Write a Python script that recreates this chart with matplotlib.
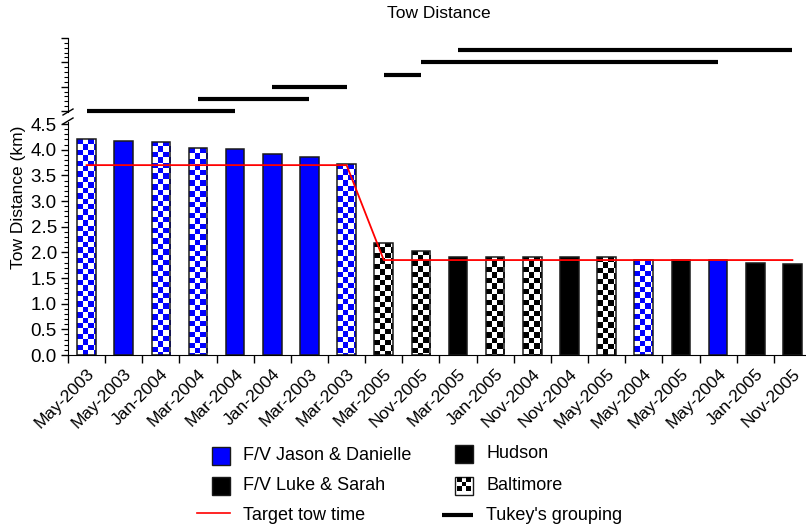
import numpy as np
import matplotlib
matplotlib.use('Agg')
import matplotlib.pyplot as plt
from matplotlib.colors import ListedColormap
from matplotlib.patches import Rectangle
from matplotlib.lines import Line2D
from matplotlib.ticker import MultipleLocator, NullFormatter

plt.rcParams['font.family'] = ['Liberation Sans', 'DejaVu Sans']

# data
months = ['May-2003', 'May-2003', 'Jan-2004', 'Mar-2004', 'Mar-2004', 'Jan-2004', 'Mar-2003',
          'Mar-2003', 'Mar-2005', 'Nov-2005', 'Mar-2005', 'Jan-2005', 'Nov-2004', 'Nov-2004',
          'May-2005', 'May-2004', 'May-2005', 'May-2004', 'Jan-2005', 'Nov-2005']
distance = [4.20, 4.17, 4.16, 4.03, 4.02, 3.92, 3.86, 3.72, 2.19, 2.03,
            1.91, 1.91, 1.91, 1.91, 1.90, 1.85, 1.85, 1.85, 1.79, 1.77]
vessel = ['JD', 'JD', 'JD', 'JD', 'JD', 'JD', 'JD', 'JD', 'LS', 'LS',
          'LS', 'LS', 'LS', 'LS', 'LS', 'JD', 'LS', 'JD', 'LS', 'LS']
port = ['B', 'H', 'B', 'B', 'H', 'H', 'H', 'B', 'B', 'B',
        'H', 'B', 'B', 'H', 'B', 'B', 'H', 'H', 'H', 'H']
target = [3.7] * 8 + [1.85] * 12
# Tukey's grouping: first bar, last bar, level in upper panel
tukey_start = [0, 3, 5, 8, 9, 10]
tukey_end = [4, 6, 7, 9, 17, 19]
tukey_level = [0, 0.5, 1.0, 1.5, 2.0, 2.5]

vessel_color = {'JD': '#0000ff', 'LS': '#000000'}
edge = '#1a1a1a'

W, H = 806, 529
fig = plt.figure(figsize=(W / 100, H / 100), dpi=100)


def fx(x):
    return x / W


def fy(y):
    return 1 - y / H


ax = fig.add_axes([fx(68), fy(355), 737 / W, 233.5 / H])
axu = fig.add_axes([fx(68), fy(112), 737 / W, 74 / H])

x = np.arange(len(distance))
colors = [vessel_color[v] if p == 'H' else 'white' for v, p in zip(vessel, port)]
bars = ax.bar(x, distance, width=0.5, color=colors, linewidth=0, zorder=2)
ax.set_xlim(-0.5, 19.34)
ax.set_ylim(0, 4.55)

# checkerboard fill for Baltimore bars
p0 = ax.transData.transform((0, 0))
p1 = ax.transData.transform((1, 1))
ppx, ppy = p1[0] - p0[0], p1[1] - p0[1]
cell = 5.4
cw, ch = cell / ppx, cell / ppy
for i, b in enumerate(bars):
    if port[i] != 'B':
        continue
    h = distance[i]
    nx = int(np.ceil(0.5 / cw))
    ny = int(np.ceil(h / ch))
    arr = (np.add.outer(np.arange(ny), np.arange(nx)) % 2 == 0).astype(int)
    x0 = i - 0.25
    im = ax.imshow(arr, cmap=ListedColormap(['white', vessel_color[vessel[i]]]),
                   vmin=0, vmax=1, interpolation='nearest', aspect='auto',
                   extent=(x0, x0 + nx * cw, h - ny * ch, h), origin='upper', zorder=2.5)
    im.set_clip_path(b)

ax.bar(x, distance, width=0.5, fill=False, edgecolor=edge, linewidth=1.1, zorder=3)
ax.plot(x, target, color='red', lw=1.3, zorder=4)

ax.set_xlim(-0.5, 19.34)
ax.set_ylim(0, 4.55)
ax.set_xticks(x)
ax.set_xticklabels(months, rotation=45, ha='right', va='top', rotation_mode='anchor', fontsize=12.5)
ax.set_xticks(np.arange(-0.5, 19, 1), minor=True)
ax.tick_params(axis='x', which='major', length=0, pad=8)
ax.tick_params(axis='x', which='minor', length=6, width=1, direction='out')
ax.set_yticks(np.arange(0, 4.51, 0.5))
ax.yaxis.set_minor_locator(MultipleLocator(0.1))
ax.tick_params(axis='y', which='major', length=5, width=1, labelsize=13.5, pad=3)
ax.tick_params(axis='y', which='minor', length=3, width=0.8)
ax.spines['top'].set_visible(False)
ax.spines['right'].set_visible(False)

# upper panel: Tukey's grouping
for s, e, lv in zip(tukey_start, tukey_end, tukey_level):
    axu.plot([s, e], [lv, lv], color='black', lw=3, solid_capstyle='butt', clip_on=False)
axu.set_xlim(-0.5, 19.34)
axu.set_ylim(-0.04, 3.0)
axu.set_xticks([])
axu.set_yticks([0, 1, 2, 3])
axu.yaxis.set_minor_locator(MultipleLocator(0.2))
axu.yaxis.set_major_formatter(NullFormatter())
axu.tick_params(axis='y', which='major', length=5, width=1)
axu.tick_params(axis='y', which='minor', length=3, width=0.8)
for s in ['top', 'right', 'bottom']:
    axu.spines[s].set_visible(False)
axu.patch.set_alpha(0)

# axis break marks
for yb in [112, 121]:
    fig.add_artist(Line2D([fx(63), fx(73)], [fy(yb + 3), fy(yb - 3)], color='black', lw=1,
                          transform=fig.transFigure))

fig.text(fx(439), fy(13), 'Tow Distance', ha='center', va='center', fontsize=12.5)
fig.text(fx(19), fy(197.5), 'Tow Distance (km)', rotation=90, ha='center', va='center', fontsize=12.5)


# legend
def square(xl, yc, color):
    fig.add_artist(Rectangle((fx(xl), fy(yc + 9)), 18 / W, 18 / H, facecolor=color,
                             edgecolor=edge, lw=1, transform=fig.transFigure))


square(212, 456, vessel_color['JD'])
square(212, 486, vessel_color['LS'])
fig.add_artist(Line2D([fx(197), fx(230)], [fy(513), fy(513)], color='red', lw=1.2,
                      transform=fig.transFigure))
square(455, 454, 'black')
square(455, 486, 'white')
for r in range(3):
    for c in range(3):
        if (r + c) % 2 == 0:
            fig.add_artist(Rectangle((fx(457 + c * 4.7), fy(477 + (r + 1) * 4.7)), 4.7 / W, 4.7 / H,
                                     facecolor='black', lw=0, transform=fig.transFigure))
fig.add_artist(Line2D([fx(442), fx(473)], [fy(515), fy(515)], color='black', lw=3,
                      solid_capstyle='butt', transform=fig.transFigure))

leg_text = [(243, 456, 'F/V Jason & Danielle'), (243, 486, 'F/V Luke & Sarah'),
            (243, 516, 'Target tow time'), (486, 453, 'Hudson'),
            (486, 486, 'Baltimore'), (486, 516, "Tukey's grouping")]
for tx, ty, t in leg_text:
    fig.text(fx(tx), fy(ty), t, ha='left', va='center', fontsize=13)

fig.savefig('out.png', dpi=100)
